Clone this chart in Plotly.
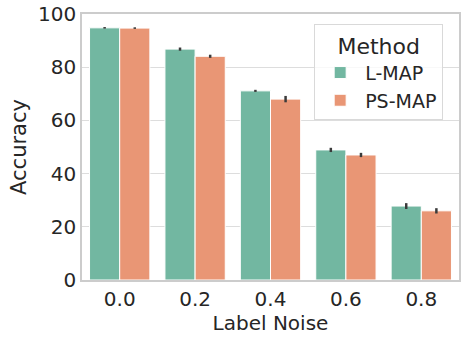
import plotly.graph_objects as go

# ── Data ──────────────────────────────────────────────
noise = ["0.0", "0.2", "0.4", "0.6", "0.8"]

lmap_acc = [94.8, 86.8, 71.1, 48.9, 27.8]
lmap_err = [0.3, 0.6, 0.4, 0.8, 1.1]

psmap_acc = [94.7, 84.1, 68.0, 47.0, 26.0]
psmap_err = [0.3, 0.6, 1.2, 0.8, 1.0]

GREEN = "#72b7a1"
ORANGE = "#e99675"
ERR = "#3b3b3b"
FONT = "DejaVu Sans"

fig = go.Figure()

for name, acc, err, clr in [("L-MAP", lmap_acc, lmap_err, GREEN),
                            ("PS-MAP", psmap_acc, psmap_err, ORANGE)]:
    fig.add_trace(go.Bar(
        x=noise, y=acc, name=name,
        marker=dict(color=clr, line=dict(color="white", width=1)),
        error_y=dict(type="data", array=err, color=ERR, thickness=2.5, width=0),
    ))

fig.update_layout(
    width=465, height=343,
    margin=dict(l=82, r=6, t=14, b=63),
    barmode="group",
    bargap=0.2, bargroupgap=0,
    plot_bgcolor="white", paper_bgcolor="white",
    font=dict(family=FONT, size=20, color="#262626"),
    showlegend=True,
    legend=dict(
        title=dict(text="Method", font=dict(size=22), side="top center"),
        x=0.958, y=0.962, xanchor="right", yanchor="top",
        bordercolor="#d9d9d9", borderwidth=1, bgcolor="rgba(255,255,255,0.8)",
        font=dict(size=19), itemwidth=40,
    ),
)
fig.update_xaxes(
    title=dict(text="Label Noise", font=dict(size=20), standoff=2),
    showline=True, linecolor="#cccccc", linewidth=1.5, mirror=True,
    showgrid=False, ticks="", tickfont=dict(size=20), automargin=False,
)
fig.update_yaxes(
    title=dict(text="Accuracy", font=dict(size=21), standoff=6),
    range=[0, 100], tickvals=[0, 20, 40, 60, 80, 100],
    showline=True, linecolor="#cccccc", linewidth=1.5, mirror=True,
    showgrid=True, gridcolor="#dddddd", gridwidth=1,
    zeroline=False, ticks="", tickfont=dict(size=20), automargin=False,
)

# drop the browser's default 8px body margin so the figure fills the window
fig.write_html("out.html", config={"displayModeBar": False},
               post_script="document.body.style.margin='0';")
